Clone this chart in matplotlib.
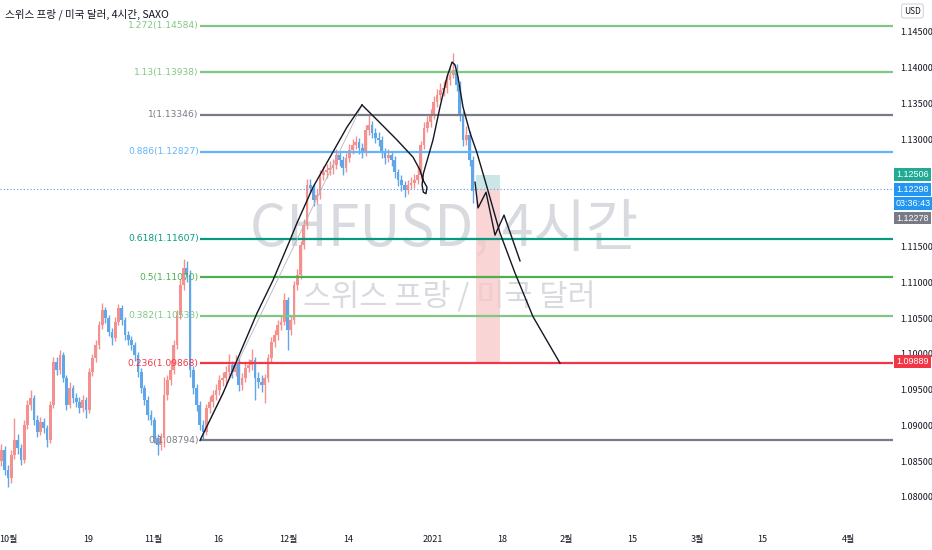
import numpy as np
import matplotlib
matplotlib.use("Agg")
import matplotlib.pyplot as plt
import matplotlib.transforms as mtransforms

plt.rcParams['font.family'] = ['Noto Sans CJK KR', 'DejaVu Sans']

# 12시간 봉 (거래일 기준 x), 종가/고가/저가
close = [1.0866, 1.0838, 1.0826, 1.0859, 1.0880, 1.0868, 1.0852, 1.0901, 1.0929, 1.0938,
         1.0908, 1.0891, 1.0905, 1.0896, 1.0880, 1.0929, 1.0989, 1.0977, 1.0998, 1.0966,
         1.0929, 1.0952, 1.0938, 1.0933, 1.0924, 1.0936, 1.0922, 1.0975, 1.0994, 1.1012,
         1.1040, 1.1061, 1.1050, 1.1031, 1.1022, 1.1045, 1.1064, 1.1047, 1.1026, 1.1019,
         1.1012, 1.0998, 1.0975, 1.0952, 1.0936, 1.0915, 1.0908, 1.0882, 1.0873, 1.0882,
         1.0942, 1.0963, 1.0977, 1.1012, 1.1054, 1.1096, 1.1120, 1.1110, 1.0977, 1.0952,
         1.0929, 1.0901, 1.0891, 1.0924, 1.0933, 1.0942, 1.0949, 1.0963, 1.0966, 1.0975,
         1.0984, 1.0975, 1.0989, 1.0956, 1.0966, 1.0980, 1.0984, 1.0991, 1.0966, 1.0961,
         1.0956, 1.0966, 1.0994, 1.1017, 1.1026, 1.1040, 1.1045, 1.1075, 1.1033, 1.1047,
         1.1096, 1.1110, 1.1152, 1.1180, 1.1236, 1.1232, 1.1215, 1.1222, 1.1250, 1.1254,
         1.1257, 1.1260, 1.1264, 1.1278, 1.1271, 1.1260, 1.1274, 1.1285, 1.1292, 1.1296,
         1.1288, 1.1282, 1.1313, 1.1320, 1.1309, 1.1302, 1.1299, 1.1282, 1.1274, 1.1278,
         1.1271, 1.1254, 1.1243, 1.1236, 1.1229, 1.1236, 1.1239, 1.1243, 1.1250, 1.1292,
         1.1316, 1.1324, 1.1334, 1.1352, 1.1362, 1.1369, 1.1372, 1.1383, 1.1390, 1.1397,
         1.1376, 1.1334, 1.1299, 1.1306, 1.1271, 1.12278]
high = [1.0874, 1.0871, 1.0845, 1.0866, 1.0910, 1.0888, 1.0874, 1.0908, 1.0936, 1.0950,
        1.0942, 1.0914, 1.0912, 1.0910, 1.0900, 1.0934, 1.0995, 1.0996, 1.1006, 1.1002,
        1.0970, 1.0960, 1.0957, 1.0946, 1.0940, 1.0943, 1.0940, 1.0980, 1.1000, 1.1019,
        1.1046, 1.1071, 1.1066, 1.1054, 1.1036, 1.1051, 1.1070, 1.1068, 1.1052, 1.1032,
        1.1025, 1.1017, 1.1003, 1.0980, 1.0957, 1.0941, 1.0921, 1.0912, 1.0888, 1.0889,
        1.0967, 1.0970, 1.0991, 1.1019, 1.1062, 1.1104, 1.1133, 1.1130, 1.1117, 1.0983,
        1.0958, 1.0934, 1.0908, 1.0930, 1.0941, 1.0950, 1.0958, 1.0970, 1.0975, 1.0983,
        1.1000, 1.0990, 1.0998, 1.0994, 1.0973, 1.0988, 1.0993, 1.1007, 1.0995, 1.0974,
        1.0970, 1.0972, 1.1000, 1.1024, 1.1034, 1.1047, 1.1053, 1.1085, 1.1079, 1.1054,
        1.1102, 1.1118, 1.1158, 1.1188, 1.1244, 1.1245, 1.1237, 1.1230, 1.1257, 1.1262,
        1.1266, 1.1270, 1.1273, 1.1286, 1.1284, 1.1276, 1.1281, 1.1293, 1.1300, 1.1305,
        1.1302, 1.1295, 1.1320, 1.1335, 1.1326, 1.1316, 1.1310, 1.1304, 1.1288, 1.1286,
        1.1284, 1.1276, 1.1259, 1.1250, 1.1242, 1.1243, 1.1247, 1.1251, 1.1262, 1.1298,
        1.1324, 1.1333, 1.1342, 1.1360, 1.1370, 1.1378, 1.1382, 1.1392, 1.1400, 1.1421,
        1.1405, 1.1382, 1.1340, 1.1318, 1.1312, 1.1277]
low = [1.0843, 1.0831, 1.0814, 1.0820, 1.0853, 1.0860, 1.0845, 1.0848, 1.0895, 1.0922,
       1.0901, 1.0884, 1.0886, 1.0889, 1.0870, 1.0876, 1.0925, 1.0970, 1.0972, 1.0960,
       1.0921, 1.0925, 1.0931, 1.0926, 1.0917, 1.0919, 1.0910, 1.0918, 1.0969, 1.0988,
       1.1007, 1.1035, 1.1043, 1.1025, 1.1012, 1.1018, 1.1040, 1.1041, 1.1020, 1.1012,
       1.1005, 1.0990, 1.0968, 1.0945, 1.0928, 1.0907, 1.0900, 1.0875, 1.0859, 1.0866,
       1.0870, 1.0936, 1.0956, 1.0972, 1.1007, 1.1049, 1.1090, 1.1100, 1.0968, 1.0944,
       1.0920, 1.0893, 1.0879, 1.0886, 1.0917, 1.0926, 1.0935, 1.0943, 1.0955, 1.0958,
       1.0968, 1.0966, 1.0969, 1.0948, 1.0950, 1.0960, 1.0974, 1.0977, 1.0936, 1.0952,
       1.0947, 1.0931, 1.0960, 1.0988, 1.1010, 1.1020, 1.1034, 1.1040, 1.1005, 1.1027,
       1.1042, 1.1090, 1.1104, 1.1146, 1.1175, 1.1225, 1.1207, 1.1210, 1.1217, 1.1243,
       1.1246, 1.1250, 1.1252, 1.1258, 1.1262, 1.1250, 1.1254, 1.1268, 1.1279, 1.1286,
       1.1280, 1.1274, 1.1277, 1.1306, 1.1302, 1.1295, 1.1290, 1.1274, 1.1266, 1.1268,
       1.1262, 1.1246, 1.1235, 1.1228, 1.1219, 1.1224, 1.1230, 1.1232, 1.1237, 1.1245,
       1.1286, 1.1310, 1.1317, 1.1328, 1.1345, 1.1355, 1.1360, 1.1365, 1.1376, 1.1385,
       1.1368, 1.1325, 1.1290, 1.1292, 1.1262, 1.1211]
first_open = 1.0850
first_day = -1.0
bar_step = 0.5

# 피보나치 되돌림
fib_low = 1.08794
fib_high = 1.13346
fib_start = 29.54
fib_ratios = [0, 0.236, 0.382, 0.5, 0.618, 0.886, 1, 1.13, 1.272]
fib_names = ["0", "0.236", "0.382", "0.5", "0.618", "0.886", "1", "1.13", "1.272"]
fib_colors = ['#787b86', '#f23645', '#81c784', '#4caf50', '#089981', '#64b5f6',
              '#787b86', '#81c784', '#81c784']

# 포지션 도구
pos_x0, pos_x1 = 72.0, 75.7
entry_price = 1.12298
stop_price = 1.12506
target_price = 1.09889
last_price = 1.12278
countdown = "03:36:43"

# 손그림 선 (거래일, 가격)
rise_x = [29.54, 33.08, 35.69, 38.31, 40.77, 43.38, 44.46, 46.92, 49.54, 52.15, 54.46]
rise_y = [1.0879, 1.0945, 1.1001, 1.1057, 1.1103, 1.1159, 1.1183, 1.1233, 1.1275, 1.1317, 1.1348]
fall_x = [54.46, 57.23, 59.85, 62.31, 63.38, 63.85, 64.46, 64.3, 63.9, 63.7, 63.9,
          65.38, 66.46, 67.54, 68.31, 68.77, 69.23, 70.0, 71.08, 72.15, 73.69,
          75.69, 78.0, 80.77, 84.92]
fall_y = [1.1348, 1.1323, 1.1299, 1.1275, 1.1257, 1.1243, 1.1233, 1.1224, 1.1226, 1.1236, 1.1252,
          1.1299, 1.1345, 1.1387, 1.1408, 1.1404, 1.1387, 1.1345, 1.1309, 1.1281, 1.1233,
          1.1169, 1.1113, 1.1052, 1.0987]
zig_x = [71.85, 72.31, 73.54, 74.92, 76.31, 78.77]
zig_y = [1.1240, 1.1204, 1.1226, 1.1166, 1.1194, 1.1130]

tick_days = [0, 12.31, 22.31, 32.31, 43.08, 52.31, 65.38, 76.0, 85.85, 96.0, 106.0, 116.0, 129.38]
tick_labels = ["10월", "19", "11월", "16", "12월", "14", "2021", "18", "2월", "15", "3월", "15", "4월"]
# 1.125 / 1.120 눈금은 가격 라벨 박스에 가려져 보이지 않음
price_ticks = [1.080, 1.085, 1.090, 1.095, 1.100, 1.105, 1.110, 1.115,
               1.130, 1.135, 1.140, 1.145]

fig = plt.figure(figsize=(9.32, 5.5), dpi=100)
ax = fig.add_axes([0, 23 / 550, 893 / 932, 527 / 550])
ax.set_xlim(-1.23, 136.15)
ax.set_ylim(1.0758, 1.14947)

# 워터마크
ax.text(0.497, 0.565, "CHFUSD, 4시간", transform=ax.transAxes, ha='center', va='center',
        fontsize=41, color='#c8cbd3', alpha=0.7, zorder=0)
ax.text(0.503, 0.435, "스위스 프랑 / 미국 달러", transform=ax.transAxes, ha='center', va='center',
        fontsize=22, color='#c8cbd3', alpha=0.7, zorder=0)

# 캔들
opens = [first_open] + close[:-1]
xs = first_day + bar_step * np.arange(len(close))
for x, o, h, l, c in zip(xs, opens, high, low, close):
    col = '#f4918e' if c >= o else '#62a6ea'
    ax.vlines(x, l, h, color=col, lw=1.0, zorder=2)
    ax.bar(x, max(abs(c - o), 0.00008), bottom=min(o, c), width=0.42, color=col,
           lw=0, zorder=2)

# 피보나치 선
for r, name, col in zip(fib_ratios, fib_names, fib_colors):
    lvl = fib_low + r * (fib_high - fib_low)
    ax.plot([fib_start, 136.15], [lvl, lvl], color=col, lw=1.6, zorder=3,
            solid_capstyle='butt')
    ax.text(fib_start - 0.2, lvl, f"{name}({lvl:.5f})", ha='right', va='center',
            fontsize=6.6, color=col, zorder=4, family=['Liberation Sans Narrow', 'DejaVu Sans'])

# 현재가 점선
ax.axhline(entry_price, color='#5b9cf6', lw=0.8, ls=(0, (1, 2)), zorder=3)

# 포지션 박스
ax.fill_between([pos_x0, pos_x1], entry_price, stop_price, color='#b2dfdb', alpha=0.7,
                lw=0, zorder=1.5)
ax.fill_between([pos_x0, pos_x1], target_price, entry_price, color='#f8c8c8', alpha=0.75,
                lw=0, zorder=1.5)

# 손그림
ax.plot([rise_x[0], rise_x[-1]], [rise_y[0], rise_y[-1]], color='#b2b5be', lw=0.6, zorder=4)
ax.plot(rise_x, rise_y, color='#131722', lw=1.0, zorder=5)
ax.plot(fall_x, fall_y, color='#131722', lw=1.0, zorder=5)
ax.plot(zig_x, zig_y, color='#131722', lw=1.0, zorder=5)

# 축
for s in ax.spines.values():
    s.set_visible(False)
ax.yaxis.tick_right()
ax.set_yticks(price_ticks)
ax.set_yticklabels([f"{p:.5f}" for p in price_ticks])
ax.tick_params(axis='y', length=0, pad=5, labelsize=6.5, labelcolor='#131722')
ax.set_xticks(tick_days)
ax.set_xticklabels(tick_labels)
ax.tick_params(axis='x', length=0, pad=6, labelsize=6.5, labelcolor='#131722')

# 가격 라벨 박스
trans = mtransforms.blended_transform_factory(ax.transAxes, ax.transData)
def price_box(y, txt, col, dy=0):
    ax.annotate(txt, xy=(1.0, y), xycoords=trans, xytext=(2.2, dy), textcoords='offset points',
                ha='left', va='center', fontsize=6.5, color='white',
                family=['Liberation Sans', 'DejaVu Sans'],
                bbox=dict(boxstyle='square,pad=0.22', fc=col, ec='none'),
                annotation_clip=False, zorder=10)

price_box(stop_price, f"{stop_price:.5f}", '#22ab94')
price_box(entry_price, f"{entry_price:.5f}", '#2196f3')
price_box(entry_price, countdown, '#2196f3', dy=-10)
price_box(last_price, f"{last_price:.5f}", '#787b86', dy=-19.5)
price_box(target_price, f"{target_price:.5f}", '#f23645')

fig.text(0.979, 0.980, "USD", ha='center', va='center', fontsize=6, color='#131722',
         bbox=dict(boxstyle='round,pad=0.3', fc='white', ec='#d1d4dc', lw=0.8))
fig.text(0.005, 0.975, "스위스 프랑 / 미국 달러, 4시간, SAXO", ha='left', va='center',
         fontsize=7.6, color='#131722')

plt.savefig("out.png", dpi=100)
